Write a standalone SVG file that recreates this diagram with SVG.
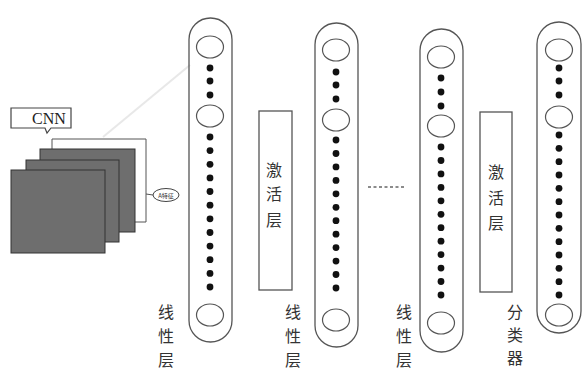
<svg xmlns="http://www.w3.org/2000/svg" width="583" height="372" viewBox="0 0 583 372">
<style>
.pill{fill:none;stroke:#555;stroke-width:1.3}
.neuron{fill:#fff;stroke:#555;stroke-width:1.2}
.dot{fill:#111}
.box{fill:#fff;stroke:#555;stroke-width:1.3}
.lbl{font-family:"Noto Sans CJK SC",sans-serif;font-size:16px;fill:#333;text-anchor:middle}
.sq{fill:#6e6e6e;stroke:#333;stroke-width:1}
.ln{fill:none;stroke:#555;stroke-width:1}
</style>
<rect width="583" height="372" fill="#fff"/>
<g id="connectors">
<line x1="103" y1="137" x2="190" y2="65" stroke="#e8e8e8" stroke-width="2"/>
<polyline class="ln" points="52,149 52,139 146,139 146,222 135,222"/>
<line class="ln" x1="146" y1="194" x2="153" y2="195"/>
<line x1="368" y1="187" x2="406" y2="187" stroke="#666" stroke-width="1.5" stroke-dasharray="3 2.5"/>
</g>
<g id="cnn">
<rect class="sq" x="40" y="149" width="95" height="83"/>
<rect class="sq" x="26" y="160" width="93" height="82"/>
<rect class="sq" x="11" y="170" width="94" height="83"/>
<path d="M11,108 H71 V128 H51 L47,133 L45,128 H11 Z" fill="#fff" stroke="#444" stroke-width="1.2"/>
<text x="32" y="124" font-family="Liberation Serif, serif" font-size="16" fill="#222">CNN</text>
</g>
<g id="pool">
<ellipse cx="166" cy="195" rx="13" ry="6.5" fill="#fff" stroke="#444" stroke-width="1"/>
<text x="166" y="197.5" font-family="Noto Sans CJK SC, sans-serif" font-size="6" fill="#333" text-anchor="middle">A特征</text>
</g>
<g id="linear1">
<rect class="pill" x="189" y="18" width="43" height="324" rx="21.5"/>
<ellipse class="neuron" cx="210" cy="47" rx="13.5" ry="11"/>
<ellipse class="neuron" cx="210" cy="116" rx="13.5" ry="11"/>
<ellipse class="neuron" cx="210" cy="315" rx="13.5" ry="11"/>
<g class="dot">
<circle cx="210" cy="68" r="3.4"/><circle cx="210" cy="81" r="3.4"/><circle cx="210" cy="95" r="3.4"/>
<circle cx="210" cy="137" r="3.4"/><circle cx="210" cy="150.6" r="3.4"/><circle cx="210" cy="164.3" r="3.4"/><circle cx="210" cy="177.9" r="3.4"/><circle cx="210" cy="191.5" r="3.4"/><circle cx="210" cy="205.2" r="3.4"/><circle cx="210" cy="218.8" r="3.4"/><circle cx="210" cy="232.5" r="3.4"/><circle cx="210" cy="246.1" r="3.4"/><circle cx="210" cy="259.7" r="3.4"/><circle cx="210" cy="273.4" r="3.4"/><circle cx="210" cy="287" r="3.4"/>
</g>
<text class="lbl" x="166" y="318">线</text><text class="lbl" x="166" y="342">性</text><text class="lbl" x="166" y="366">层</text>
</g>
<g id="act1">
<rect class="box" x="259" y="111" width="33" height="179"/>
<text class="lbl" x="274" y="176">激</text><text class="lbl" x="274" y="200">活</text><text class="lbl" x="274" y="226">层</text>
</g>
<g id="linear2">
<rect class="pill" x="315" y="23" width="43" height="324" rx="21.5"/>
<ellipse class="neuron" cx="336" cy="50" rx="13.5" ry="11"/>
<ellipse class="neuron" cx="336" cy="120" rx="13.5" ry="11"/>
<ellipse class="neuron" cx="336" cy="320" rx="13.5" ry="11"/>
<g class="dot">
<circle cx="336" cy="72" r="3.4"/><circle cx="336" cy="85" r="3.4"/><circle cx="336" cy="99" r="3.4"/>
<circle cx="336" cy="140" r="3.4"/><circle cx="336" cy="153.5" r="3.4"/><circle cx="336" cy="166.9" r="3.4"/><circle cx="336" cy="180.4" r="3.4"/><circle cx="336" cy="193.8" r="3.4"/><circle cx="336" cy="207.3" r="3.4"/><circle cx="336" cy="220.7" r="3.4"/><circle cx="336" cy="234.2" r="3.4"/><circle cx="336" cy="247.6" r="3.4"/><circle cx="336" cy="261.1" r="3.4"/><circle cx="336" cy="274.5" r="3.4"/><circle cx="336" cy="288" r="3.4"/>
</g>
<text class="lbl" x="293" y="318">线</text><text class="lbl" x="293" y="342">性</text><text class="lbl" x="293" y="366">层</text>
</g>
<g id="linear3">
<rect class="pill" x="420" y="29" width="43" height="323" rx="21.5"/>
<ellipse class="neuron" cx="441" cy="57" rx="13.5" ry="11"/>
<ellipse class="neuron" cx="441" cy="126" rx="13.5" ry="11"/>
<ellipse class="neuron" cx="441" cy="323" rx="13.5" ry="11"/>
<g class="dot">
<circle cx="441" cy="78" r="3.4"/><circle cx="441" cy="92" r="3.4"/><circle cx="441" cy="106" r="3.4"/>
<circle cx="441" cy="147" r="3.4"/><circle cx="441" cy="160.5" r="3.4"/><circle cx="441" cy="173.9" r="3.4"/><circle cx="441" cy="187.4" r="3.4"/><circle cx="441" cy="200.8" r="3.4"/><circle cx="441" cy="214.3" r="3.4"/><circle cx="441" cy="227.7" r="3.4"/><circle cx="441" cy="241.2" r="3.4"/><circle cx="441" cy="254.6" r="3.4"/><circle cx="441" cy="268.1" r="3.4"/><circle cx="441" cy="281.5" r="3.4"/><circle cx="441" cy="295" r="3.4"/>
</g>
<text class="lbl" x="404" y="318">线</text><text class="lbl" x="404" y="342">性</text><text class="lbl" x="404" y="366">层</text>
</g>
<g id="act2">
<rect class="box" x="480" y="112" width="32" height="180"/>
<text class="lbl" x="496" y="178">激</text><text class="lbl" x="496" y="204">活</text><text class="lbl" x="496" y="229">层</text>
</g>
<g id="classifier">
<rect class="pill" x="537" y="22" width="44" height="311" rx="22"/>
<ellipse class="neuron" cx="559" cy="50" rx="13.5" ry="11"/>
<ellipse class="neuron" cx="559" cy="117" rx="13.5" ry="11"/>
<ellipse class="neuron" cx="559" cy="315" rx="13.5" ry="11"/>
<g class="dot">
<circle cx="559" cy="68" r="3.4"/><circle cx="559" cy="81" r="3.4"/><circle cx="559" cy="95" r="3.4"/>
<circle cx="559" cy="135" r="3.4"/><circle cx="559" cy="148.3" r="3.4"/><circle cx="559" cy="161.7" r="3.4"/><circle cx="559" cy="175" r="3.4"/><circle cx="559" cy="188.3" r="3.4"/><circle cx="559" cy="201.7" r="3.4"/><circle cx="559" cy="215" r="3.4"/><circle cx="559" cy="228.3" r="3.4"/><circle cx="559" cy="241.7" r="3.4"/><circle cx="559" cy="255" r="3.4"/><circle cx="559" cy="268.3" r="3.4"/><circle cx="559" cy="281.7" r="3.4"/><circle cx="559" cy="295" r="3.4"/>
</g>
<text class="lbl" x="515" y="318">分</text><text class="lbl" x="515" y="341">类</text><text class="lbl" x="515" y="364">器</text>
</g>
</svg>
